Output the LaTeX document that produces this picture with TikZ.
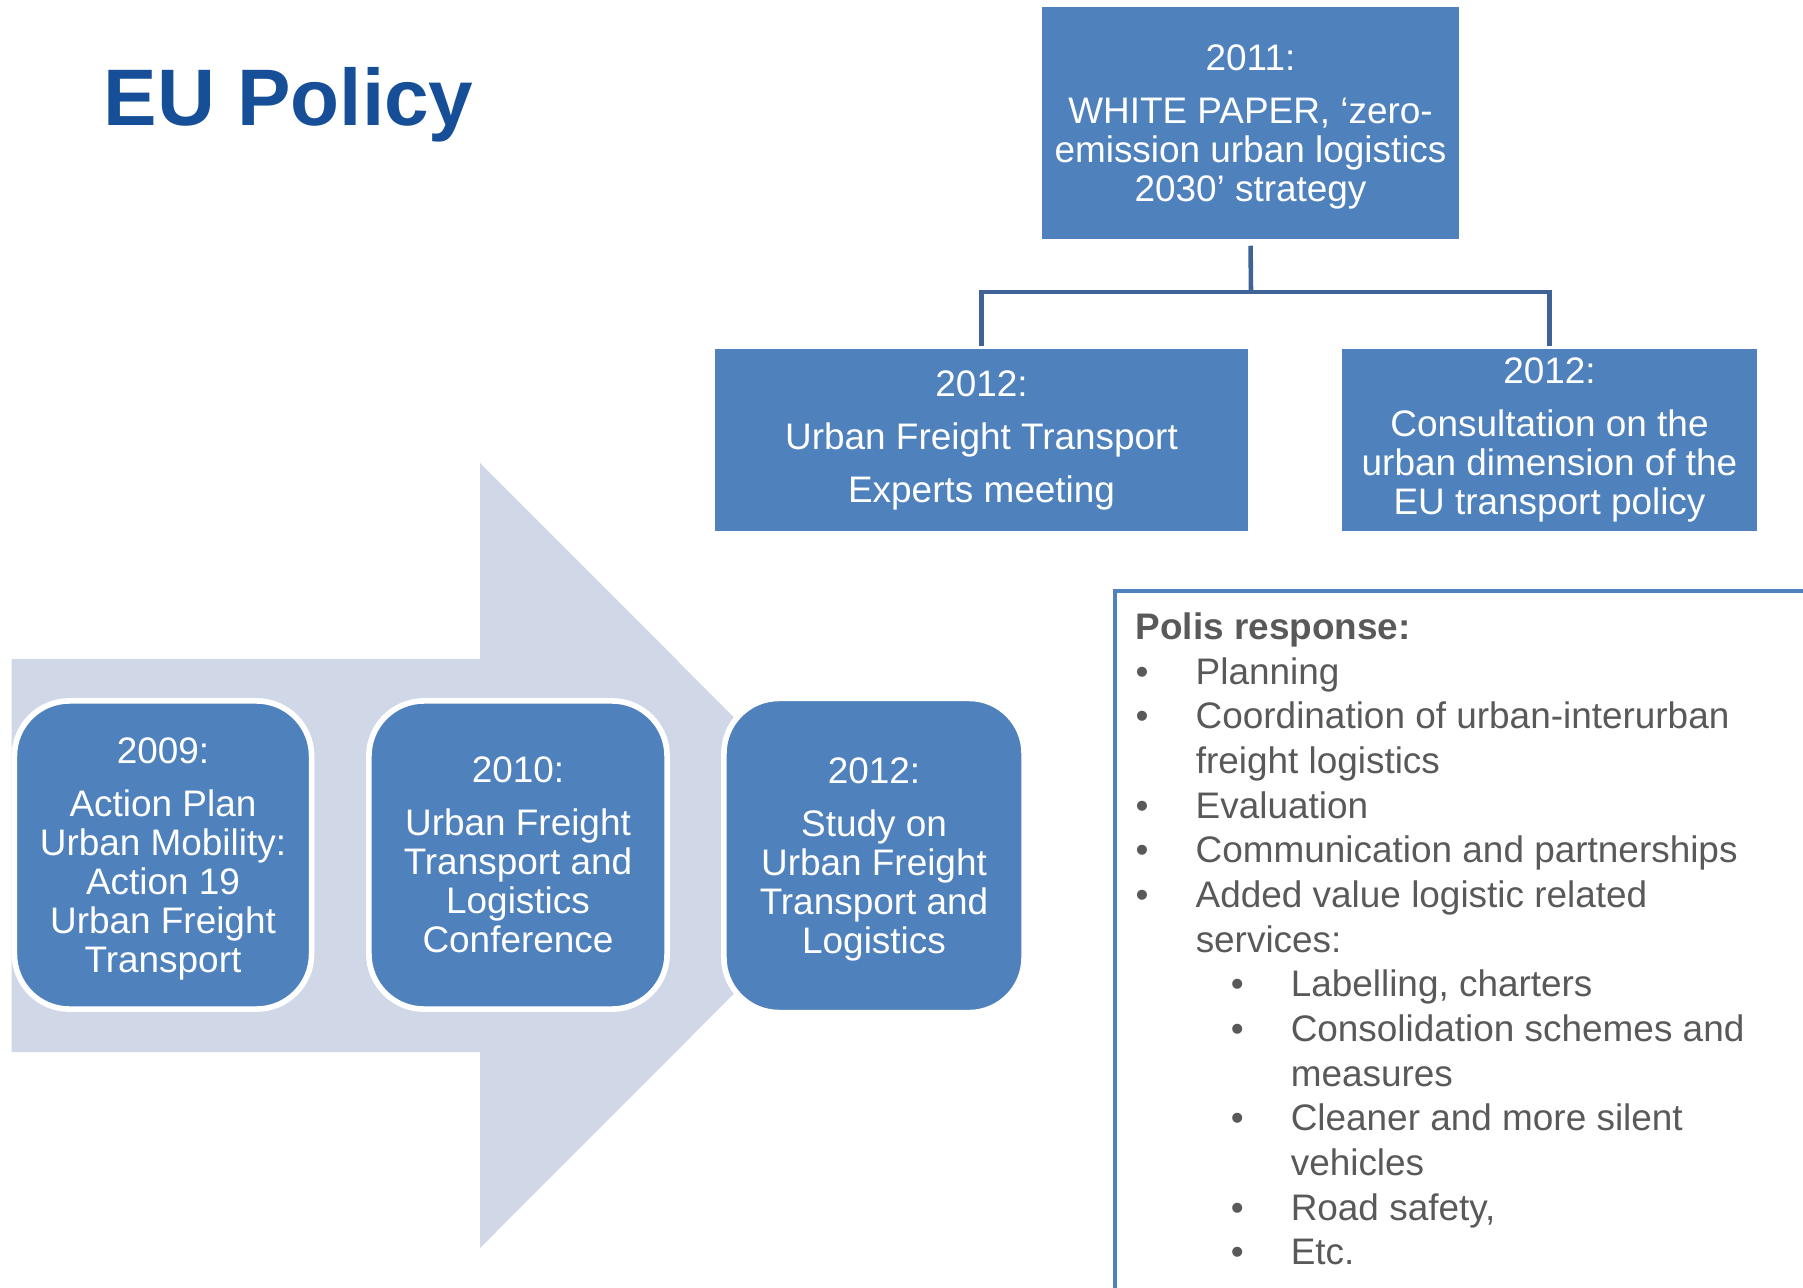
\documentclass[tikz,border=0pt]{standalone}
\usepackage{fontspec}
\setmainfont{Liberation Sans}
\usepackage{tikz}
\definecolor{boxblue}{RGB}{79,129,189}
\definecolor{lineblue}{RGB}{63,99,148}
\definecolor{arrowgrey}{RGB}{208,216,232}
\definecolor{titleblue}{RGB}{22,79,151}
\definecolor{textgrey}{RGB}{89,89,89}
\newcommand{\lvla}[1]{\makebox[0.60cm][l]{\textbullet}#1}
\newcommand{\lvlb}[1]{\hspace*{0.60cm}#1}
\newcommand{\lvlc}[1]{\hspace*{0.95cm}\makebox[0.60cm][l]{\textbullet}#1}
\newcommand{\lvld}[1]{\hspace*{1.55cm}#1}
\newcommand{\toprule}{\rule{0pt}{0.34cm}}

\begin{document}
\begin{tikzpicture}[x=0.01cm,y=-0.01cm,every node/.style = {align=center, text=white, font=\fontsize{10.5}{11.06}\selectfont},plain box/.style = {shape=rectangle, fill=boxblue, inner sep=0pt},round box/.style = {shape=rectangle, rounded corners=0.55cm, fill=boxblue, draw=white, line width=1.6pt, minimum width=2.97cm, minimum height=3.08cm, inner sep=0pt},blue edge/.style = {-, line width=1.3pt, lineblue}]
\useasboundingbox (0,0) rectangle (1803,1288);

% big arrow behind the time line
\fill[arrowgrey] (11.5,659) -- (480,659) -- (480,463) -- (872,855.5) -- (480,1248) -- (480,1052) -- (11.5,1052) -- cycle;

\node[text=titleblue, font=\fontsize{22.8}{26}\selectfont\bfseries, anchor=base west, inner sep=0pt, align=left] (title) at (103,126) {EU Policy};

\node[plain box, minimum width=4.17cm, minimum height=2.32cm] (0;0) at (1250.5,123) {\toprule 2011:\\[4pt] WHITE PAPER, ‘zero-\\emission urban logistics\\2030’ strategy};
  \node[plain box, minimum width=5.33cm, minimum height=1.81cm] (1;-1) at (981.5,440) {2012:\\[4pt] Urban Freight Transport\\[4pt] Experts meeting};
  \node[plain box, minimum width=4.15cm, minimum height=1.81cm] (1;1) at (1549.5,440) {2012:\\[4pt] Consultation on the\\urban dimension of the\\EU transport policy};

\coordinate (fork) at (1251,292);
\draw[blue edge, shorten <=1.7pt] (0;0.south) -- (fork);
\foreach \j in {-1,1}
  { \draw[blue edge, shorten >=0.9pt] (fork) -| (1;\j.north); }

  \node[round box] (2;1) at (163,855) {\toprule 2009:\\[4pt] Action Plan\\Urban Mobility:\\Action 19\\Urban Freight\\Transport};
  \node[round box, minimum width=2.98cm] (2;2) at (518,855) {2010:\\[4pt] Urban Freight\\Transport and\\Logistics\\Conference};
  \node[round box, minimum width=3.0cm, minimum height=3.14cm] (2;3) at (874,855.5) {\toprule 2012:\\[4pt] Study on\\Urban Freight\\Transport and\\Logistics};

% Polis box, cut by the page edge
\draw[boxblue, line width=1.1pt] (1115,591) rectangle (1830,1320);
\node[anchor=north west, align=left, text=textgrey, font=\fontsize{10.5}{12.7}\selectfont, inner sep=0pt] (polis) at (1135,612) {\textbf{Polis response:}\\
\lvla{Planning}\\
\lvla{Coordination of urban-interurban}\\
\lvlb{freight logistics}\\
\lvla{Evaluation}\\
\lvla{Communication and partnerships}\\
\lvla{Added value logistic related}\\
\lvlb{services:}\\
\lvlc{Labelling, charters}\\
\lvlc{Consolidation schemes and}\\
\lvld{measures}\\
\lvlc{Cleaner and more silent}\\
\lvld{vehicles}\\
\lvlc{Road safety,}\\
\lvlc{Etc.}};

\end{tikzpicture}
\end{document}
